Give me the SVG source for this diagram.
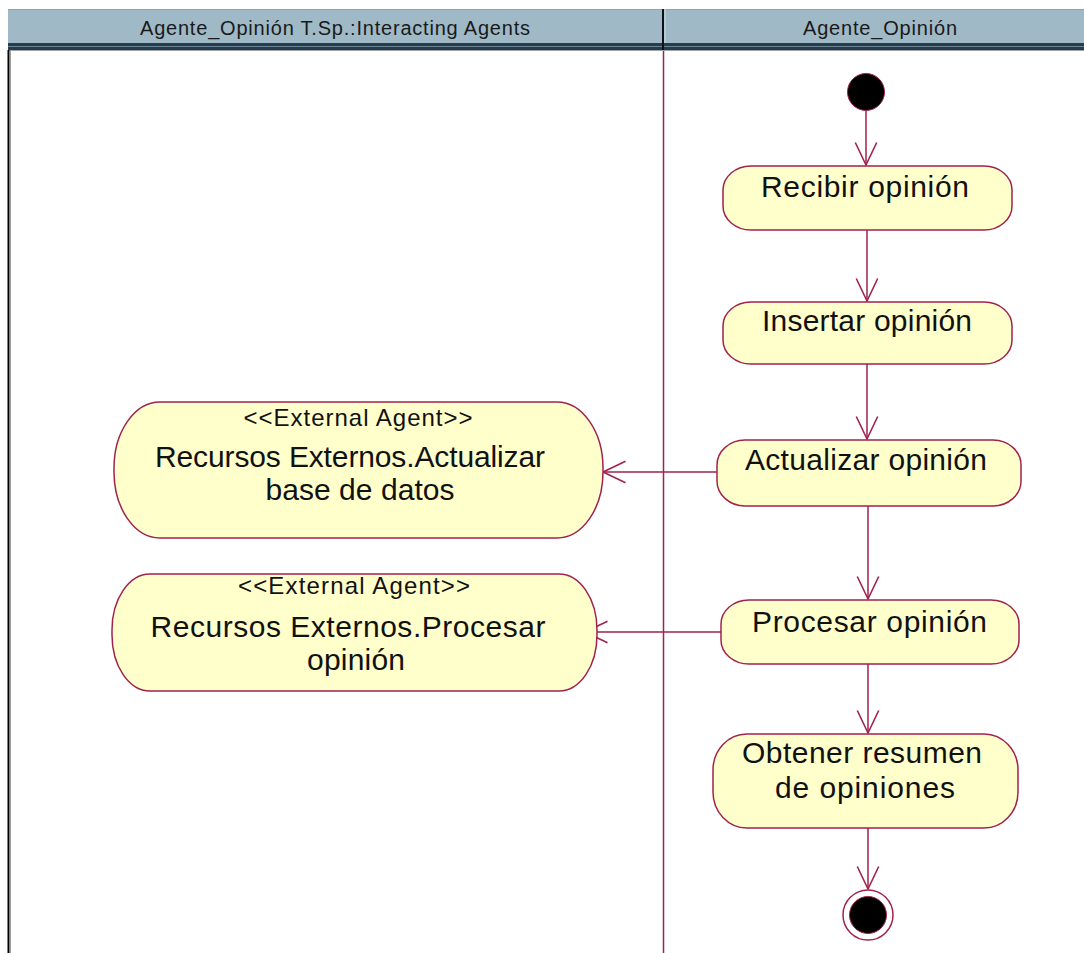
<svg xmlns="http://www.w3.org/2000/svg" width="1084" height="953" viewBox="0 0 1084 953">
<style>
.node{fill:#ffffcb;stroke:#a0224f;stroke-width:1.5}
.lbl{font-family:"Liberation Sans",Arial,sans-serif;font-size:30px;fill:#111;text-anchor:middle}
.st{font-family:"Liberation Sans",Arial,sans-serif;font-size:24px;fill:#111;text-anchor:middle}
.hd{font-family:"Liberation Sans",Arial,sans-serif;font-size:20px;fill:#1a1a1a;text-anchor:middle}
.conn{stroke:#a0224f;stroke-width:1.5;fill:none}
</style>
<defs>
<marker id="open" markerUnits="userSpaceOnUse" markerWidth="30" markerHeight="30" viewBox="-25 -12 28 24" refX="0" refY="0" orient="auto">
<path d="M-21,-10 L0,0 L-21,10" fill="none" stroke="#a0224f" stroke-width="1.5"/>
</marker>
</defs>
<rect x="0" y="0" width="1084" height="953" fill="#ffffff"/>
<g id="header">
<rect x="8" y="9" width="1076" height="34" fill="#9fb9c7"/>
<line x1="8" y1="9.5" x2="1084" y2="9.5" stroke="#8fa3ad"/>
<rect x="8" y="43" width="1076" height="7" fill="#263c4c"/>
<line x1="8" y1="46.5" x2="1084" y2="46.5" stroke="#6d8696"/>
<line x1="8" y1="50.5" x2="1084" y2="50.5" stroke="#9aa5ab"/>
<line x1="663" y1="9" x2="663" y2="50" stroke="#111" stroke-width="2"/>
<line x1="665" y1="9" x2="665" y2="43" stroke="#c9d8e0" stroke-width="1"/>
<text class="hd" x="335" y="35" textLength="390" lengthAdjust="spacing">Agente_Opinión T.Sp.:Interacting Agents</text>
<text class="hd" x="880" y="35" textLength="154" lengthAdjust="spacing">Agente_Opinión</text>
</g>
<g id="lanes">
<line x1="8.5" y1="50" x2="8.5" y2="953" stroke="#000" stroke-width="2"/>
<line x1="10.5" y1="50" x2="10.5" y2="953" stroke="#a0a0a0" stroke-width="1"/>
<line x1="663.5" y1="51" x2="663.5" y2="953" stroke="#a0224f" stroke-width="1.5"/>
</g>
<g id="connectors">
<line class="conn" x1="866" y1="111" x2="866" y2="165" marker-end="url(#open)"/>
<line class="conn" x1="867" y1="230" x2="867" y2="301" marker-end="url(#open)"/>
<line class="conn" x1="867" y1="364" x2="867" y2="439" marker-end="url(#open)"/>
<line class="conn" x1="868" y1="506" x2="868" y2="599" marker-end="url(#open)"/>
<line class="conn" x1="868" y1="664" x2="868" y2="733" marker-end="url(#open)"/>
<line class="conn" x1="868" y1="828" x2="868" y2="889" marker-end="url(#open)"/>
<line class="conn" x1="727" y1="472" x2="603" y2="472" marker-end="url(#open)"/>
<line class="conn" x1="732" y1="632" x2="585" y2="632" marker-end="url(#open)"/>
</g>
<g id="start">
<circle cx="866" cy="92" r="18.5" fill="#000" stroke="#a0224f" stroke-width="1"/>
</g>
<g id="recibir">
<rect class="node" x="723" y="166" width="289" height="64" rx="28" ry="24"/>
<text class="lbl" x="865" y="197" textLength="208" lengthAdjust="spacing">Recibir opinión</text>
</g>
<g id="insertar">
<rect class="node" x="723" y="302" width="289" height="62" rx="28" ry="24"/>
<text class="lbl" x="867" y="331" textLength="210" lengthAdjust="spacing">Insertar opinión</text>
</g>
<g id="actualizar">
<rect class="node" x="717" y="440" width="304" height="66" rx="28" ry="25"/>
<text class="lbl" x="866" y="470" textLength="242" lengthAdjust="spacing">Actualizar opinión</text>
</g>
<g id="procesar">
<rect class="node" x="721" y="600" width="298" height="64" rx="28" ry="24"/>
<text class="lbl" x="869.5" y="632" textLength="235" lengthAdjust="spacing">Procesar opinión</text>
</g>
<g id="obtener">
<rect class="node" x="713" y="734" width="305" height="94" rx="34" ry="36"/>
<text class="lbl" x="862" y="763" textLength="240" lengthAdjust="spacing">Obtener resumen</text>
<text class="lbl" x="865" y="798" textLength="180" lengthAdjust="spacing">de opiniones</text>
</g>
<g id="ext_actualizar">
<rect class="node" x="114" y="402" width="489" height="136" rx="46" ry="66"/>
<text class="st" x="358" y="426" textLength="229" lengthAdjust="spacing">&lt;&lt;External Agent&gt;&gt;</text>
<text class="lbl" x="350" y="467" textLength="390" lengthAdjust="spacing">Recursos Externos.Actualizar</text>
<text class="lbl" x="360" y="500" textLength="189" lengthAdjust="spacing">base de datos</text>
</g>
<g id="ext_procesar">
<rect class="node" x="112" y="574" width="485" height="117" rx="38" ry="56"/>
<text class="st" x="354" y="594" textLength="232" lengthAdjust="spacing">&lt;&lt;External Agent&gt;&gt;</text>
<text class="lbl" x="348" y="637" textLength="395" lengthAdjust="spacing">Recursos Externos.Procesar</text>
<text class="lbl" x="356" y="670" textLength="98" lengthAdjust="spacing">opinión</text>
</g>
<g id="end">
<circle cx="868" cy="915" r="25" fill="#fff" stroke="#a0224f" stroke-width="1.5"/>
<circle cx="868" cy="915" r="18.5" fill="#000" stroke="#a0224f" stroke-width="1"/>
</g>
</svg>
